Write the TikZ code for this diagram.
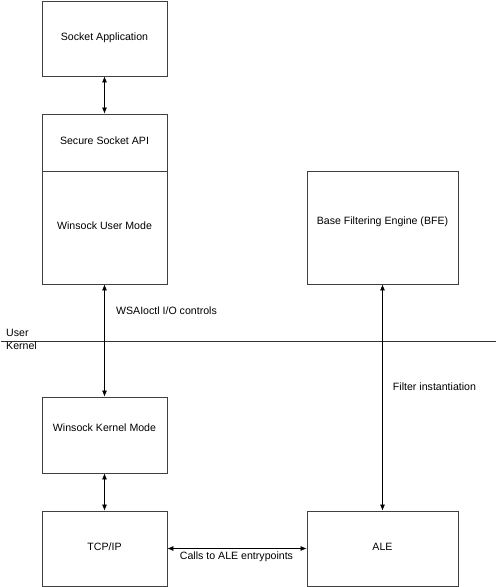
\documentclass[tikz,border=0pt]{standalone}
\usepackage{fontspec}
\setmainfont{Liberation Sans}
\usetikzlibrary{calc,arrows.meta,positioning}

\tikzset{
  box/.style={rectangle,draw=black!75,line width=0.8pt,minimum width=125pt,inner sep=0pt},
  link/.style={arrows=<->,line width=0.7pt},
  caption/.style={inner sep=0pt}
}

\begin{document}
\begin{tikzpicture}[x=1pt,y=1pt,>={Latex[length=6pt,width=5pt]},font=\fontsize{10.6}{12}\selectfont]

\coordinate (LEFTCORNER) at (0,0);
\useasboundingbox (LEFTCORNER) rectangle ++(497,587);

%%%%%%%%%%%%%%%%%%%%%

%draw user mode stack
\node[box,minimum height=75pt] at ($(LEFTCORNER)+(104.5,548.5)$) (SOCKETAPP) {};
\node[caption] at ($(SOCKETAPP)+(0,0.5)$) (SOCKETAPPTEXT) {Socket Application};

\node[box,minimum height=57pt] at ($(LEFTCORNER)+(104.5,444.5)$) (SECUREAPI) {};
\node[caption] at ($(SECUREAPI)+(0,1.5)$) (SECUREAPITEXT) {Secure Socket API};

\node[box,minimum height=113pt] at ($(LEFTCORNER)+(104.5,359.5)$) (WINSOCKUSER) {};
\node[caption] at ($(WINSOCKUSER)+(0,1.5)$) (WINSOCKUSERTEXT) {Winsock User Mode};

%draw BFE
\node[box,minimum width=151pt,minimum height=113pt] at ($(LEFTCORNER)+(382.5,359.5)$) (BFE) {};
\node[caption] at ($(BFE)+(0,5.5)$) (BFETEXT) {Base Filtering Engine (BFE)};

%%%%%%%

%draw user / kernel border
\coordinate (BORDERLEFT) at ($(LEFTCORNER)+(1,246)$);
\coordinate (BORDERRIGHT) at ($(LEFTCORNER)+(496,246)$);
\draw[line width=0.8pt,black!80] (BORDERLEFT) -- (BORDERRIGHT);
\node[caption,anchor=west] at ($(LEFTCORNER)+(6,254)$) (USERTEXT) {User};
\node[caption,anchor=west] at ($(LEFTCORNER)+(6,241)$) (KERNELTEXT) {Kernel};

%%%%%%%

%draw kernel mode boxes
\node[box,minimum height=76pt] at ($(LEFTCORNER)+(104.5,152)$) (WINSOCKKERNEL) {};
\node[caption] at ($(WINSOCKKERNEL)+(0,7)$) (WINSOCKKERNELTEXT) {Winsock Kernel Mode};

\node[box,minimum height=75pt] at ($(LEFTCORNER)+(104.5,38.5)$) (TCPIP) {};
\node[caption] at ($(TCPIP)+(0,1.5)$) (TCPIPTEXT) {TCP/IP};

\node[box,minimum width=151pt,minimum height=75pt] at ($(LEFTCORNER)+(382.5,38.5)$) (ALE) {};
\node[caption] at ($(ALE)+(0,1.5)$) (ALETEXT) {ALE};

%%%%%%%%%%%%%%%%%%%
%draw arrows between boxes
\draw[link] (SOCKETAPP.south) -- (SECUREAPI.north);
\draw[link] (WINSOCKUSER.south) -- (WINSOCKKERNEL.north);
\draw[link] (WINSOCKKERNEL.south) -- (TCPIP.north);
\draw[link] (BFE.south) -- (ALE.north);
\draw[link] (TCPIP.east) -- (ALE.west);

%arrow labels
\node[caption] at ($(LEFTCORNER)+(166.5,276)$) (WSAIOCTLTEXT) {WSAIoctl I/O controls};
\node[caption] at ($(LEFTCORNER)+(434.5,200)$) (FILTERTEXT) {Filter instantiation};
\node[caption] at ($(LEFTCORNER)+(236.5,30)$) (CALLSTEXT) {Calls to ALE entrypoints};

%%%%%%%%%%%%%%%%%%%%%%

\end{tikzpicture}
\end{document}
